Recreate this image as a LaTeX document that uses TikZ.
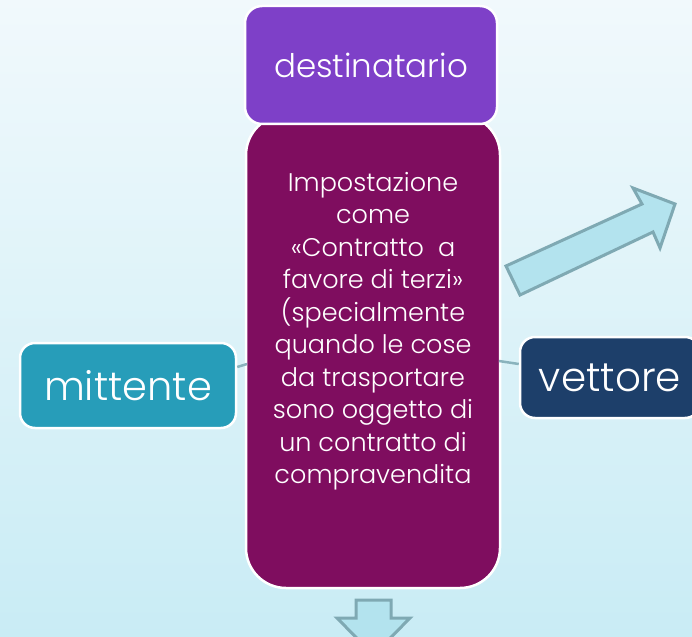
\documentclass[tikz,border=0pt]{standalone}
\usepackage{fontspec}
\setmainfont{Poppins}[UprightFont=* Light]
\definecolor{bgtop}{HTML}{F1F9FC}
\definecolor{bgbot}{HTML}{C9ECF5}
\definecolor{destcol}{HTML}{7E40C8}
\definecolor{maincol}{HTML}{7F0D5F}
\definecolor{mittcol}{HTML}{279DB9}
\definecolor{vettcol}{HTML}{1D3F6A}
\definecolor{linkcol}{HTML}{8AB3BD}
\definecolor{arrfill}{HTML}{B3E3EE}
\definecolor{arrline}{HTML}{7FA9B3}
\tikzset{
  box/.style={draw=white, line width=2.5pt, text=white, inner sep=0pt, align=center},
  link/.style={draw=linkcol, line width=2.5pt},
  blockarrow/.style={fill=arrfill, draw=arrline, line width=3pt, line join=miter},
}
\begin{document}
\begin{tikzpicture}[x=1pt,y=-1pt]
\useasboundingbox (0,0) rectangle (692,636);
\begin{scope}
\clip (0,0) rectangle (692,636);
\shade[top color=bgtop, bottom color=bgbot] (0,0) rectangle (692,636);
% central box
\node[box, fill=maincol, rounded corners=40pt, minimum width=254pt, minimum height=473pt] (main) at (373,351.5) {};
\node[text=white, align=center, font=\fontsize{25.5}{32.5}\selectfont] (testo) at (373,331)
 {Impostazione\\come\\«Contratto~ a\\favore di terzi»\\(specialmente\\quando le cose\\da trasportare\\sono oggetto di\\un contratto di\\compravendita};
\node[box, fill=destcol, rounded corners=17pt, minimum width=252pt, minimum height=118pt, font=\fontsize{32.5}{38}\selectfont] (dest) at (371,65) {destinatario};
\node[box, fill=mittcol, rounded corners=15pt, minimum width=216pt, minimum height=85pt, font=\fontsize{40}{46}\selectfont] (mitt) at (128,385.5) {mittente};
\node[box, fill=vettcol, rounded corners=15pt, minimum width=180pt, minimum height=81pt, font=\fontsize{40.5}{46}\selectfont] (vett) at (610,377.5) {vettore};
\coordinate (mL) at (247,364);
\coordinate (mR) at (499,361);
\draw[link] (mitt.east |- 0,367) -- (mL);
\draw[link] (vett.west |- 0,364) -- (mR);
% up-right arrow
\coordinate (a1) at (506,266);
\coordinate (a2) at (642,204);
\coordinate (a3) at (633,188);
\coordinate (a4) at (675,204);
\coordinate (a5) at (660,248);
\coordinate (a6) at (653,232);
\coordinate (a7) at (520,295);
\draw[blockarrow] (a1) -- (a2) -- (a3) -- (a4) -- (a5) -- (a6) -- (a7) -- cycle;
% down arrow
\coordinate (d1) at (356,600);
\coordinate (d2) at (391,600);
\coordinate (d3) at (391,618);
\coordinate (d4) at (410,618);
\coordinate (d5) at (373.5,655);
\coordinate (d6) at (337,618);
\coordinate (d7) at (356,618);
\draw[blockarrow] (d1) -- (d2) -- (d3) -- (d4) -- (d5) -- (d6) -- (d7) -- cycle;
\end{scope}
\end{tikzpicture}
\end{document}
